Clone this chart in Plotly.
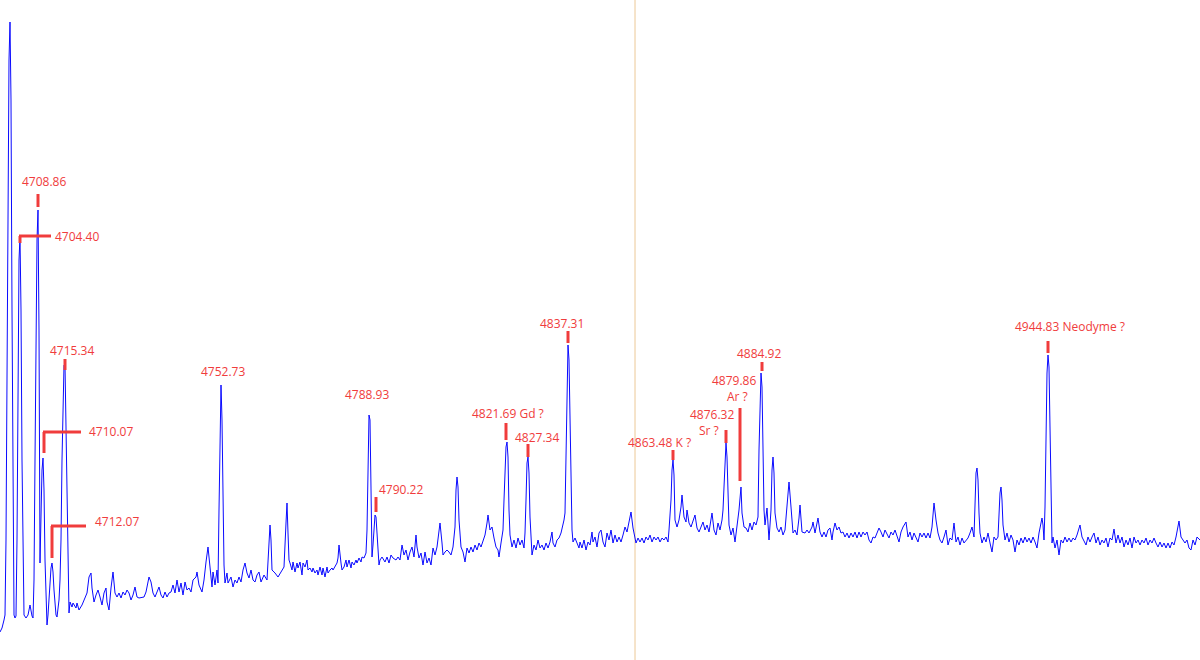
import plotly.graph_objects as go

# ---- spectrum data (position in arbitrary px-like units, intensity in arbitrary units) ----
pos_a = [0,2,4,5,6,7,8,9,10,11,12,13,14,15,16,17,18,19,20,21,22,23,24,26,28,30,31,32,33,34,35,36,37,38,39,40,41,42,43,44,45,46,47,48,49,50,51,52,53,54,55,56,57,58,59,60,61,62,63,64,65,66,67,68,69]
int_a = [28,32,40,45,120,300,480,600,638,560,350,120,45,42,44,120,300,400,423,350,200,80,45,42,45,55,48,44,42,80,200,330,420,450,330,97,150,190,202,170,100,55,35,45,60,80,92,97,88,70,55,45,43,50,60,80,120,200,270,295,295,230,157,100,47]

pos_b = [70,72,73,76,77,79,82,84,87,89,91,92,94,96,98,100,102,104,106,107,109,111,113,115,117,119,121,123,125,127,129,131,133,135,137,139,142,144,146,148,149,151,153,155,157,159,161,163,165,167,169,171,173,175,177,179,181,183,185,187,189,191,193,196,197,199]
int_b = [58,53,57,52,57,50,55,60,67,83,87,72,58,65,70,63,55,67,72,58,50,72,88,67,63,67,62,68,65,70,67,60,65,73,63,62,63,63,68,77,83,78,67,63,68,73,65,62,68,63,67,68,75,67,80,68,77,65,78,70,72,68,80,83,88,75]

pos_c = [202,204,206,208,210,212,213,215,217,218,219,220,221,222,223,224,225,227,228,231,233,235,237,239,241,243,245,247,249,251,253,255,257,259,261,264,267,269,270,271,272,275,278,281,284,286,287,288,289]
int_c = [68,80,98,113,93,73,88,75,90,77,150,230,275,240,150,95,77,87,77,83,73,80,77,83,78,90,97,87,82,90,80,78,85,88,78,85,80,110,135,120,90,87,83,88,93,137,157,127,100]

pos_d = [290,292,293,295,297,298,300,302,303,305,307,308,310,312,313,315,317,318,320,322,323,325,327,328,330,332,333,335,337,338,339,341,342,344,346,347,349,351,352,354,356,357,359,361,362,364,366,367,368,369,370,371,372,373,374,375,376,377,378,379,380,382,385,387,389,391,393,396,398,400]
int_d = [97,90,98,88,97,92,98,85,97,93,100,90,92,88,92,87,90,85,93,85,92,83,93,87,90,92,90,93,97,102,115,97,90,93,100,93,100,92,98,95,100,97,102,98,103,102,107,130,200,245,240,150,103,115,135,145,143,130,110,95,100,103,98,103,97,105,102,100,103,100]

pos_e1 = [402,404,406,408,410,412,414,416,417,419,421,423,425,427,429,431,433,435,437,439,440,442,443,445,447,449,451,453,455,456,457,458,459,461,463,465,467,469,471,473,475,477,479,481,483,485,487,488,490,492,494,496,498,499,501]
int_e1 = [115,105,110,100,108,113,103,125,113,102,107,95,108,97,102,95,112,105,113,127,137,117,105,108,110,108,105,113,133,170,183,173,140,113,108,98,112,107,113,108,115,110,117,113,118,125,137,145,130,133,122,113,110,103,117]

pos_e2 = [503,504,505,506,507,508,509,510,512,514,516,518,520,522,524,525,526,527,528,529,530,531,532,534,536,538,540,542,544,546,548,550,552,553,555,557,559,561,563,564,565,566,567,568,569,570,571,572,573,575,577,579,580,582,584,586,588,590,592,593,595,597,599]
int_e2 = [130,160,193,213,218,203,150,125,113,120,112,122,115,120,112,127,160,197,203,187,143,118,105,115,110,120,112,115,110,117,112,118,128,117,113,120,122,127,135,140,147,210,290,315,300,230,160,130,118,122,117,112,118,112,120,110,118,115,128,118,123,113,127]

pos_e3 = [601,603,605,607,609,611,613,615,617,619,621,623,625,627,629,631,633,634,636,638,640,642,644,646,648,650,652,654,656,658,660,662,664,666,668,669,671,672,673,674,675,677,679,681,682,684,686,687,689,691,693,695,697,699]
int_e3 = [130,118,113,127,120,130,117,125,118,123,118,125,133,128,137,148,132,127,117,122,118,122,117,123,120,125,118,123,120,123,118,122,120,123,118,130,160,190,200,185,140,133,140,153,165,143,138,150,137,133,140,145,132,128]

pos_e4 = [701,703,705,707,709,711,712,714,716,718,720,722,723,724,725,726,727,728,729,731,733,735,737,739,741,742,744,746,748,750,752,754,756,758,759,760,761,762,763,764,765,767,769,771,772,773,774,775,777,779,781,783,785,787,789,791,793,795,797,799,800]
int_e4 = [133,138,130,135,128,143,147,130,125,137,130,140,150,173,203,217,203,167,135,125,132,118,132,150,173,147,133,132,128,137,130,138,135,143,210,260,287,273,210,150,135,152,120,150,190,203,187,147,132,128,133,125,130,157,178,153,127,130,125,142,155]

pos_f1 = [802,805,807,809,812,813,815,817,818,820,822,824,826,828,830,832,833,835,837,839,841,843,845,847,849,851,853,855,857,859,861,863,865,867,869,871,873,875,877,879,881,883,885,887,889,891,893,895,897,899,901]
int_f1 = [128,127,130,127,133,138,127,137,142,128,123,128,123,130,132,120,128,137,130,133,127,128,123,127,122,127,123,128,122,128,123,128,125,128,120,117,123,122,127,132,128,123,130,125,122,128,125,130,123,118,128]

pos_f2 = [903,906,908,910,912,914,916,918,920,922,924,926,928,930,932,933,934,936,938,940,942,944,946,948,950,952,954,956,958,960,962,964,966,968,970,972,974,975,976,977,978,979,980,982,984,986,988,990,992,994,996,998,999,1000,1001,1002,1003]
int_f2 = [133,138,123,128,120,127,123,118,127,123,127,122,127,122,133,147,157,140,127,120,117,123,130,115,122,120,137,118,123,115,122,117,120,122,127,133,123,150,187,192,180,147,127,117,123,118,127,117,108,123,120,123,150,167,173,160,135]

pos_f3 = [1005,1007,1009,1011,1013,1015,1017,1019,1021,1023,1025,1027,1029,1031,1033,1035,1037,1039,1041,1042,1043,1044,1045,1046,1047,1048,1049,1050,1051,1052,1053,1055,1057,1059,1061,1063,1065,1067,1069,1071,1073,1075,1077,1080,1082,1084,1086,1088,1090,1092,1094,1096,1098,1100]
int_f3 = [120,127,118,125,120,108,120,115,122,117,123,118,122,117,123,118,112,127,140,142,135,120,153,227,287,305,293,233,160,117,123,112,120,105,120,117,123,118,122,118,122,120,125,135,123,118,115,123,118,123,127,117,123,115]

pos_f4 = [1102,1104,1106,1108,1110,1112,1114,1116,1118,1120,1122,1124,1126,1128,1130,1132,1134,1136,1138,1140,1142,1144,1146,1148,1150,1152,1154,1156,1158,1160,1162,1164,1166,1168,1170,1172,1174,1176,1178,1179,1181,1183,1185,1187,1189,1191,1193,1195,1197,1200]
int_f4 = [120,117,122,113,122,120,131,117,125,117,123,113,120,115,122,112,123,117,120,115,120,117,122,115,120,117,122,117,113,118,113,117,112,117,112,118,115,123,137,139,123,120,117,120,112,110,120,115,123,120]

# line labels
label_texts = ["4708.86", "4704.40", "4715.34", "4752.73", "4788.93", "4790.22", "4710.07",
               "4712.07", "4821.69 Gd ?", "4827.34", "4837.31", "4863.48 K ?", "4876.32",
               "Sr ?", "4879.86", "Ar ?", "4884.92", "4944.83 Neodyme ?"]

segments = [(pos_a, int_a), (pos_b, int_b), (pos_c, int_c), (pos_d, int_d),
            (pos_e1, int_e1), (pos_e2, int_e2), (pos_e3, int_e3), (pos_e4, int_e4),
            (pos_f1, int_f1), (pos_f2, int_f2), (pos_f3, int_f3), (pos_f4, int_f4)]
position, intensity = [], []
for p, v in segments:
    assert len(p) == len(v), (p[0], len(p), len(v))
    position += p
    intensity += v

RED = "rgb(240,60,60)"
fig = go.Figure()
fig.add_trace(go.Scatter(x=position, y=intensity, mode="lines",
                         line=dict(color="rgb(10,10,255)", width=1),
                         hoverinfo="skip", showlegend=False))

# label placement: (text index, x, y, xanchor)
placements = [
    (0, 43.5, 479, "center"), (1, 53, 424, "left"), (2, 72, 310, "center"),
    (3, 222.5, 289, "center"), (4, 367, 266, "center"), (5, 401, 171, "center"),
    (6, 87, 229, "left"), (7, 93, 139, "left"), (8, 508, 247, "center"),
    (9, 536.5, 223, "center"), (10, 561.5, 337, "center"), (11, 659, 218, "center"),
    (12, 712, 246, "center"), (13, 709, 230, "center"), (14, 734, 280, "center"),
    (15, 737, 264, "center"), (16, 758.5, 307, "center"), (17, 1070, 334, "center"),
]
annotations = [dict(x=x, y=y, text=label_texts[i], xanchor=xa, yanchor="middle",
                    showarrow=False, font=dict(family="Open Sans", size=12, color=RED))
               for i, x, y, xa in placements]

# marker lines (x0, y0, x1, y1)
marks = [
    (38, 466, 38, 453), (19, 424, 51, 424), (20, 424, 20, 417), (65, 301, 65, 290),
    (376, 163, 376, 148), (43, 228, 81, 228), (44, 228, 44, 207), (51, 134, 86, 134),
    (52, 134, 52, 102), (506, 237, 506, 220), (528, 216, 528, 203), (568, 329, 568, 317),
    (673, 210, 673, 200), (726, 230, 726, 217), (740, 252, 740, 179), (762, 298, 762, 289),
    (1048, 319, 1048, 307),
]
shapes = [dict(type="line", x0=a, y0=b, x1=c, y1=d, xref="x", yref="y",
               line=dict(color=RED, width=3)) for a, b, c, d in marks]
shapes.append(dict(type="line", x0=635, x1=635, y0=0, y1=1, xref="x", yref="paper",
                   line=dict(color="rgb(236,200,150)", width=1), layer="below"))

fig.update_layout(
    width=1200, height=660,
    margin=dict(l=0, r=0, t=0, b=0),
    paper_bgcolor="white", plot_bgcolor="white",
    xaxis=dict(range=[0, 1200], visible=False, fixedrange=True),
    yaxis=dict(range=[0, 660], visible=False, fixedrange=True),
    annotations=annotations, shapes=shapes,
    showlegend=False,
)
fig.write_html("out.html", config={"displayModeBar": False},
               post_script="document.body.style.margin='0px';")
